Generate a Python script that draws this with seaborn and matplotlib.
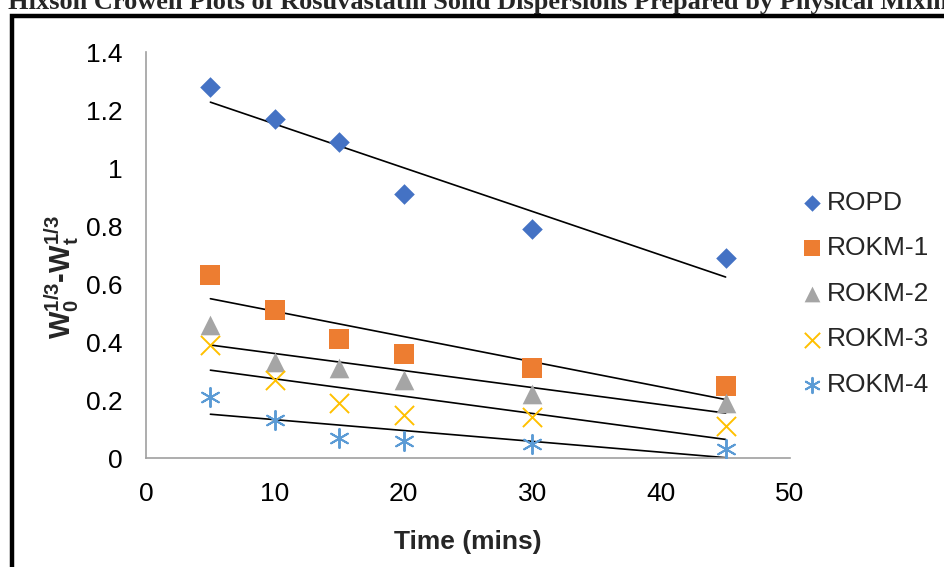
import numpy as np
import pandas as pd
import matplotlib
matplotlib.use("Agg")
import matplotlib.pyplot as plt
import seaborn as sns
from matplotlib.patches import Rectangle

time_mins = [5, 10, 15, 20, 30, 45]
ropd = [1.28, 1.17, 1.09, 0.91, 0.79, 0.69]
rokm1 = [0.63, 0.51, 0.41, 0.36, 0.31, 0.25]
rokm2 = [0.46, 0.33, 0.31, 0.27, 0.22, 0.19]
rokm3 = [0.39, 0.27, 0.19, 0.15, 0.14, 0.11]
rokm4 = [0.21, 0.13, 0.07, 0.06, 0.05, 0.03]
series_names = ["ROPD", "ROKM-1", "ROKM-2", "ROKM-3", "ROKM-4"]
x_ticks = [0, 10, 20, 30, 40, 50]
y_ticks = [0, 0.2, 0.4, 0.6, 0.8, 1.0, 1.2, 1.4]
y_tick_labels = ["0", "0.2", "0.4", "0.6", "0.8", "1", "1.2", "1.4"]

sns.set_theme(style="white")
plt.rcParams["font.family"] = ["Liberation Sans", "DejaVu Sans"]
plt.rcParams["mathtext.fontset"] = "custom"
plt.rcParams["mathtext.rm"] = "Liberation Sans:bold"
plt.rcParams["mathtext.bf"] = "Liberation Sans:bold"
plt.rcParams["mathtext.it"] = "Liberation Sans:bold"

df = pd.DataFrame({"time": time_mins * 5,
                   "value": ropd + rokm1 + rokm2 + rokm3 + rokm4,
                   "series": sum([[n] * len(time_mins) for n in series_names], [])})

colors = {"ROPD": "#4472C4", "ROKM-1": "#ED7D31", "ROKM-2": "#A5A5A5",
          "ROKM-3": "#FFC000", "ROKM-4": "#5B9BD5"}
markers = {"ROPD": "D", "ROKM-1": "s", "ROKM-2": "^", "ROKM-3": "x", "ROKM-4": (6, 2, 0)}
sizes = {"ROPD": 110, "ROKM-1": 200, "ROKM-2": 200, "ROKM-3": 190, "ROKM-4": 190}

fig = plt.figure(figsize=(9.45, 5.67), dpi=100)
ax = fig.add_axes([146 / 945, 1 - 458 / 567, (790 - 146) / 945, (458 - 52) / 567])

for name in series_names:
    sub = df[df["series"] == name]
    sns.regplot(data=sub, x="time", y="value", ax=ax, scatter=False, ci=None,
                truncate=True, line_kws={"color": "black", "lw": 1.2})
for name in series_names:
    sub = df[df["series"] == name]
    m = markers[name]
    if m in ("x",) or isinstance(m, tuple):
        sns.scatterplot(data=sub, x="time", y="value", ax=ax, marker=m,
                        color=colors[name], s=sizes[name], linewidth=1.4,
                        label=name, zorder=3)
    else:
        sns.scatterplot(data=sub, x="time", y="value", ax=ax, marker=m,
                        color=colors[name], s=sizes[name], linewidth=0,
                        label=name, zorder=3)

ax.set_xlim(0, 50)
ax.set_ylim(0, 1.4)
ax.set_xticks(x_ticks)
ax.set_yticks(y_ticks)
ax.set_yticklabels(y_tick_labels)
ax.tick_params(axis="both", labelsize=19, length=0, colors="black")
ax.tick_params(axis="x", pad=17)
ax.tick_params(axis="y", pad=17)
for s in ["top", "right"]:
    ax.spines[s].set_visible(False)
for s in ["left", "bottom"]:
    ax.spines[s].set_color("#A0A0A0")
    ax.spines[s].set_linewidth(1.2)

ax.set_xlabel("Time (mins)", fontsize=19, fontweight="bold")
ax.xaxis.set_label_coords(0.5, -(549 - 458) / 406)
ax.xaxis.label.set_va("baseline")
ax.set_ylabel(r"$\mathbf{W_0^{1/3}}$-$\mathbf{W_t^{1/3}}$", fontsize=21, fontweight="bold")
ax.yaxis.set_label_coords(-0.101, 0.447)

leg = ax.legend(loc="upper left", bbox_to_anchor=(787 / 945, 1 - 180 / 567),
                bbox_transform=fig.transFigure, frameon=False, fontsize=19,
                handletextpad=0.0, labelspacing=0.82, borderaxespad=0,
                handlelength=1.1, markerscale=0.8)

fig.patches.append(Rectangle((12 / 945, -0.2), 2.0, 1 - 16 / 567 + 0.2,
                             transform=fig.transFigure, fill=False,
                             edgecolor="black", linewidth=3.2, zorder=10))
fig.text(8 / 945, 1 - 9.5 / 567,
         "Hixson Crowell Plots of Rosuvastatin Solid Dispersions Prepared by Physical Mixing",
         family=["Liberation Serif"], fontweight="bold", fontsize=19,
         ha="left", va="baseline")

fig.savefig("out.png", dpi=100)
